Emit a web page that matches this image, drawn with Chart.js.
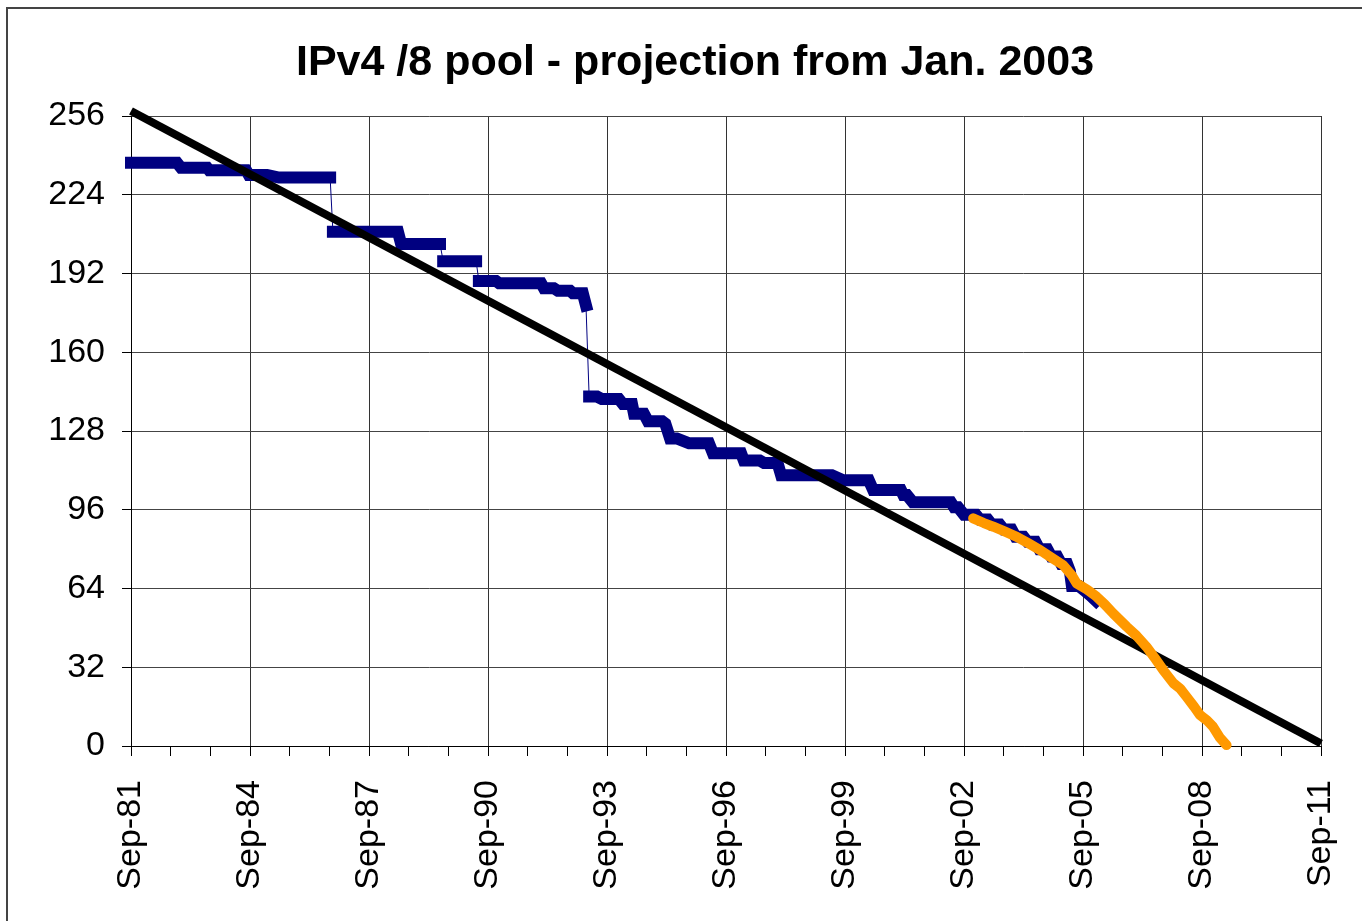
<!DOCTYPE html>
<html>
<head>
<meta charset="utf-8">
<title>IPv4 /8 pool</title>
<script src="https://cdn.jsdelivr.net/npm/chart.js@4.4.0/dist/chart.umd.min.js"></script>
<style>
  html, body { margin: 0; padding: 0; background: #fff; overflow: hidden; }
  #wrap { position: relative; width: 1362px; height: 921px; overflow: hidden; }
  #frame { position: absolute; left: 6px; top: 7px; width: 1400px; height: 1000px; border-top: 2px solid #444; border-left: 2px solid #444; pointer-events: none; }
  canvas { position: absolute; left: 0; top: 0; }
</style>
</head>
<body>
<div id="wrap">
  <canvas id="myChart" width="1362" height="921"></canvas>
  <div id="frame"></div>
</div>
<script>
// allocated pool (year as decimal, /8 blocks left)
var blueYears = [1981.75, 1982.91, 1983.01, 1983.67, 1983.72, 1984.65, 1984.72, 1985.18, 1985.48, 1986.77,
  1986.84, 1988.48, 1988.56, 1989.54, 1989.62, 1990.45, 1990.52, 1990.95, 1991.03, 1992.09,
  1992.16, 1992.41, 1992.51, 1992.82, 1992.89, 1993.14, 1993.22, 1993.30, 1993.50, 1993.62,
  1994.05, 1994.15, 1994.38, 1994.43, 1994.68, 1994.78, 1995.14, 1995.22, 1995.34, 1995.51,
  1995.82, 1996.32, 1996.42, 1997.13, 1997.20, 1997.60, 1997.71, 1998.05, 1998.14, 1999.42,
  1999.70, 2000.35, 2000.46, 2001.16, 2001.22, 2001.31, 2001.46, 2002.42, 2002.50, 2002.60,
  2002.75, 2003.05, 2003.15, 2003.35, 2003.45, 2003.65, 2003.75, 2003.95, 2004.05, 2004.25,
  2004.35, 2004.55, 2004.65, 2004.85, 2004.95, 2005.10, 2005.20, 2005.35, 2005.42, 2005.47,
  2005.65, 2005.80, 2005.95, 2006.08]
var blueValues = [237, 237, 235, 235, 234, 234, 232, 232, 231, 231,
  209, 209, 204, 204, 197, 197, 189, 189, 188, 188,
  186, 186, 185, 185, 184, 184, 179, 142, 142, 141,
  141, 139, 139, 135, 135, 132, 132, 131, 125, 125,
  123, 123, 119, 119, 116, 116, 115, 115, 110, 110,
  108, 108, 104, 104, 102, 102, 99, 99, 97, 97,
  94, 94, 92, 92, 90, 90, 88, 88, 85, 85,
  83, 83, 80, 80, 77, 77, 74, 74, 71, 65,
  65, 63, 61, 59]

// projection from Jan 2003 (orange)
var projYears = [2002.98, 2003.25, 2003.49, 2003.8, 2004.08, 2004.38, 2004.67, 2004.95, 2005.25, 2005.46,
  2005.59, 2005.85, 2006.09, 2006.3, 2006.51, 2006.85, 2007.1, 2007.35, 2007.55, 2007.77,
  2008.03, 2008.2, 2008.36, 2008.55, 2008.7, 2008.87, 2009.03, 2009.2, 2009.37]
var projValues = [92.5, 90.6, 89.1, 87.0, 85.0, 82.3, 79.6, 76.6, 73.5, 69.5,
  66.1, 63.6, 60.7, 57.5, 53.9, 48.5, 44.8, 40.3, 36.0, 30.9,
  25.5, 23.3, 20.0, 16.0, 12.6, 10.5, 7.8, 3.4, 0.4]

// linear trend
var trendYears = [1981.75, 2011.75]
var trendValues = [258, 1]

var xTickYears = [1981.75, 1984.75, 1987.75, 1990.75, 1993.75, 1996.75, 1999.75, 2002.75, 2005.75, 2008.75, 2011.75]
var xTickLabels = ['Sep-81', 'Sep-84', 'Sep-87', 'Sep-90', 'Sep-93', 'Sep-96', 'Sep-99', 'Sep-02', 'Sep-05', 'Sep-08', 'Sep-11']

var titleText = 'IPv4 /8 pool - projection from Jan. 2003'

function pts(xs, ys) {
  return xs.map(function (x, i) { return { x: x, y: ys[i] } })
}
function majorIndex(v) {
  return xTickYears.findIndex(function (t) { return Math.abs(t - v) < 0.01 })
}
function bigJump(c) {
  return Math.abs(blueValues[c.p1DataIndex] - blueValues[c.p0DataIndex]) >= 7
}

var fontFam = "'Liberation Sans', Arial, sans-serif"

// title sits a bit left of the plot centre in the original, so draw it by hand
var titlePlugin = {
  id: 'offTitle',
  afterDraw: function (chart) {
    var c = chart.ctx
    c.save()
    c.font = 'bold 43px ' + fontFam
    c.fillStyle = '#000'
    c.textAlign = 'center'
    c.textBaseline = 'middle'
    c.fillText(titleText, 695, 63)
    c.restore()
  }
}

var ctx = document.getElementById('myChart')
new Chart(ctx, {
  type: 'line',
  data: {
    datasets: [{
      label: 'projection',
      data: pts(projYears, projValues),
      borderColor: '#FF9900',
      borderWidth: 10,
      borderCapStyle: 'round',
      borderJoinStyle: 'round',
      pointRadius: 0,
      clip: 10,
      order: 0
    }, {
      label: 'trend',
      data: pts(trendYears, trendValues),
      borderColor: '#000000',
      borderWidth: 8,
      pointRadius: 0,
      clip: 10,
      order: 1
    }, {
      label: 'pool',
      data: pts(blueYears, blueValues),
      borderColor: '#000080',
      borderWidth: 12,
      borderCapStyle: 'square',
      borderJoinStyle: 'miter',
      pointRadius: 0,
      clip: 10,
      order: 2,
      segment: {
        borderWidth: function (c) { return bigJump(c) ? 1 : 12 },
        borderCapStyle: function (c) { return bigJump(c) ? 'butt' : 'square' }
      }
    }]
  },
  plugins: [titlePlugin],
  options: {
    responsive: false,
    animation: false,
    layout: { padding: { top: 116, right: 41, bottom: 0, left: 0 } },
    plugins: {
      legend: { display: false },
      tooltip: { enabled: false },
      title: { display: false }
    },
    scales: {
      x: {
        type: 'linear',
        min: 1981.75,
        max: 2011.75,
        afterBuildTicks: function (scale) {
          var t = []
          for (var v = 1981.75; v <= 2011.76; v += 1) t.push({ value: v })
          scale.ticks = t
        },
        afterFit: function (scale) {
          scale.height = 175
          scale.paddingLeft = 0
          scale.paddingRight = 0
        },
        grid: {
          color: function (c) { return majorIndex(c.tick.value) >= 0 ? '#333' : 'rgba(0,0,0,0)' },
          tickColor: '#000',
          tickLength: 10
        },
        border: { color: '#000', width: 1 },
        ticks: {
          autoSkip: false,
          minRotation: 90,
          maxRotation: 90,
          padding: 24,
          color: '#000',
          font: { family: fontFam, size: 34 },
          callback: function (v) {
            var i = majorIndex(v)
            return i >= 0 ? xTickLabels[i] : ''
          }
        }
      },
      y: {
        min: 0,
        max: 256,
        afterFit: function (scale) {
          scale.width = 131
          scale.paddingTop = 0
          scale.paddingBottom = 0
        },
        grid: { color: '#444', tickColor: '#000', tickLength: 9 },
        border: { color: '#000', width: 1 },
        ticks: {
          stepSize: 32,
          padding: 17,
          color: '#000',
          font: { family: fontFam, size: 34 }
        }
      }
    }
  }
})
</script>
</body>
</html>
